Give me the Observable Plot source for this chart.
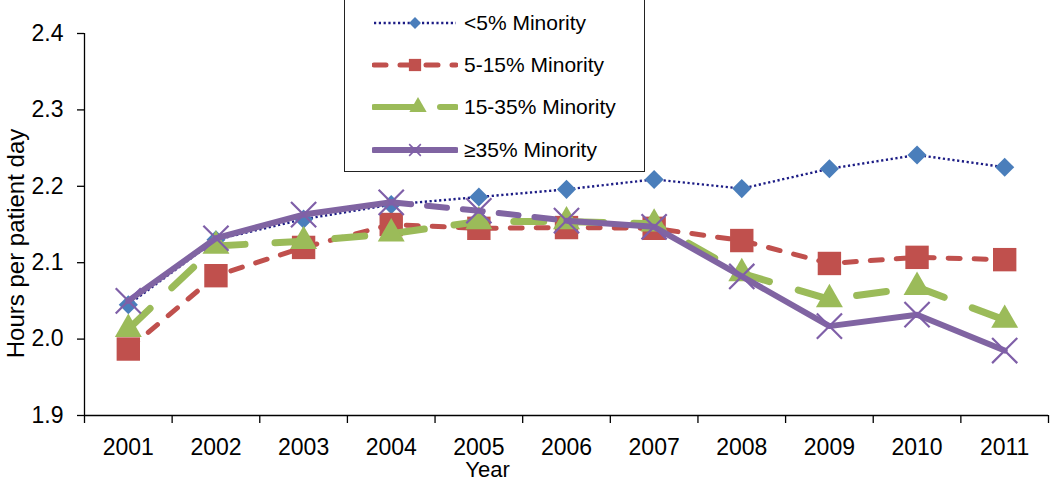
<!DOCTYPE html>
<html><head><meta charset="utf-8">
<script src="https://cdn.jsdelivr.net/npm/d3@7"></script>
<script src="https://cdn.jsdelivr.net/npm/@observablehq/plot@0.6"></script>
<style>
body{margin:0;background:#fff;}
#wrap{position:relative;width:1050px;height:484px;overflow:hidden;font-family:"Liberation Sans",Arial,sans-serif;}
#legend{position:absolute;left:344px;top:-3px;width:301px;height:175px;border:1.5px solid #222;background:#fff;box-sizing:border-box;}
.row{position:absolute;left:0;height:30px;width:100%;}
.row svg{position:absolute;left:27px;top:0;}
.row span{position:absolute;left:119px;top:2px;font-size:21px;line-height:26px;color:#000;white-space:nowrap;}
</style>
</head><body>
<div id="wrap"><div id="chart"></div><div id="legend"></div></div>
<script>
// ---- data ----
const years = [2001, 2002, 2003, 2004, 2005, 2006, 2007, 2008, 2009, 2010, 2011];
const seriesNames = ["<5% Minority", "5-15% Minority", "15-35% Minority", "\u226535% Minority"];
const under5 =    [2.045, 2.130, 2.157, 2.176, 2.186, 2.196, 2.209, 2.197, 2.223, 2.241, 2.225];
const from5to15 = [1.987, 2.083, 2.120, 2.150, 2.145, 2.146, 2.145, 2.129, 2.099, 2.107, 2.104];
const from15to35 =[2.013, 2.122, 2.128, 2.138, 2.154, 2.154, 2.151, 2.086, 2.052, 2.068, 2.025];
const over35 =    [2.050, 2.132, 2.163, 2.179, 2.168, 2.155, 2.147, 2.082, 2.017, 2.032, 1.985];
const seriesValues = [under5, from5to15, from15to35, over35];
const over35DashedSpan = [2004, 2006];   // segment of the ≥35% line drawn dashed
const yTicks = [1.9, 2.0, 2.1, 2.2, 2.3, 2.4];
const xBoundaries = [2000.5, 2001.5, 2002.5, 2003.5, 2004.5, 2005.5, 2006.5, 2007.5, 2008.5, 2009.5, 2010.5, 2011.5];

// ---- styles ----
const lineColors = ["#1c1c85", "#c0504d", "#9bbb59", "#8064a2"];
const markColors = ["#4a7ebb", "#c0504d", "#9bbb59", "#7f5fa8"];
const lineWidths = [2.4, 5, 7, 6];
const lineDashes = ["2.2,2.6", "12,14", "30,30", null];
const lineCaps = ["butt", "round", "round", "round"];
const symbols = ["diamond2", "square", "triangle", "times"];
const radii = [8.6, 13.2, 10, 11.5];

const data = years.flatMap((yr, i) => seriesValues.map((vals, k) => ({year: yr, value: vals[i], k})));
const ser = k => data.filter(d => d.k === k);

const marks = [
  Plot.ruleY([1.9], {stroke: "#000", strokeWidth: 1.3}),
  Plot.ruleX([2000.5], {stroke: "#000", strokeWidth: 1.3}),
  Plot.axisY({ticks: yTicks, tickFormat: d3.format(".1f"), tickSize: 7, tickPadding: 14, fontSize: 23, label: null, stroke: "#000", strokeWidth: 1.3}),
  Plot.axisX({ticks: years, tickFormat: d => String(d), tickSize: 0, tickPadding: 23, fontSize: 23, label: null}),
  Plot.axisX({ticks: xBoundaries, tickFormat: () => "", tickSize: 8, label: null, stroke: "#000", strokeWidth: 1.3}),
  Plot.text(["Year"], {frameAnchor: "bottom", dx: -79, dy: 46, lineAnchor: "top", fontSize: 22, fill: "#000"}),
  Plot.text(["Hours per patient day"], {frameAnchor: "left", textAnchor: "middle", rotate: -90, lineAnchor: "middle", dx: -68, dy: 19, fontSize: 24, fill: "#000"})
];

for (let k = 0; k < 4; k++) {
  const common = {x: "year", y: "value", stroke: lineColors[k], strokeWidth: lineWidths[k],
    strokeLinecap: lineCaps[k], strokeLinejoin: "round"};
  if (k === 3) {
    const pts = ser(k);
    const solid = pts.map(d => ({...d, g: d.year <= over35DashedSpan[0] ? "a" : "b"}))
      .filter(d => d.year <= over35DashedSpan[0] || d.year >= over35DashedSpan[1]);
    marks.push(Plot.line(solid, {...common, z: "g"}));
    marks.push(Plot.line(pts.filter(d => d.year >= over35DashedSpan[0] && d.year <= over35DashedSpan[1]),
      {...common, strokeDasharray: "20,16"}));
  } else {
    marks.push(Plot.line(ser(k), {...common, strokeDasharray: lineDashes[k]}));
  }
  if (symbols[k] === "times") {
    marks.push(Plot.dot(ser(k), {x: "year", y: "value", symbol: "times", r: radii[k], stroke: markColors[k], strokeWidth: 2.2, fill: "none"}));
  } else {
    marks.push(Plot.dot(ser(k), {x: "year", y: "value", symbol: symbols[k], r: radii[k], fill: markColors[k], stroke: "none"}));
  }
}

const chart = Plot.plot({
  width: 1050, height: 484,
  marginLeft: 84, marginRight: 2, marginTop: 33, marginBottom: 69,
  style: {fontFamily: "Liberation Sans, Arial, sans-serif", fontSize: "23px", color: "#000", background: "#fff"},
  x: {type: "linear", domain: [2000.5, 2011.5], axis: null},
  y: {domain: [1.9, 2.4], axis: null},
  marks
});
document.getElementById("chart").appendChild(chart);

// ---- legend ----
const legend = d3.select("#legend");
const rowCenters = [23, 65, 107, 150];
const legSym = {diamond2: d3.symbolDiamond2, square: d3.symbolSquare, triangle: d3.symbolTriangle, times: d3.symbolTimes};
const legSize = [90, 150, 130, 90];
seriesNames.forEach((name, k) => {
  const row = legend.append("div").attr("class", "row").style("top", (rowCenters[k] + 3 - 1.5 - 15) + "px");
  const svg = row.append("svg").attr("width", 86).attr("height", 30);
  svg.append("line").attr("x1", 2).attr("x2", 84).attr("y1", 15).attr("y2", 15)
    .attr("stroke", lineColors[k]).attr("stroke-width", Math.min(lineWidths[k], 6))
    .attr("stroke-dasharray", k === 2 ? "40,26" : lineDashes[k])
    .attr("stroke-linecap", lineCaps[k]);
  const p = svg.append("path").attr("d", d3.symbol(legSym[symbols[k]], legSize[k])())
    .attr("transform", `translate(${k === 2 ? 46 : 43},15)`);
  if (symbols[k] === "times") p.attr("fill", "none").attr("stroke", markColors[k]).attr("stroke-width", 1.6);
  else p.attr("fill", markColors[k]);
  row.append("span").text(name);
});
</script>
</body></html>
